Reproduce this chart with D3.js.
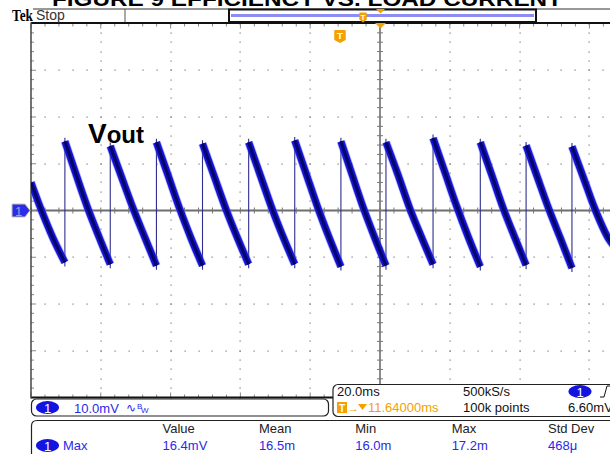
<!DOCTYPE html>
<html><head><meta charset="utf-8">
<script src="https://cdn.jsdelivr.net/npm/d3@7"></script>
<style>
html,body{margin:0;padding:0;background:#fff;overflow:hidden}
svg{display:block}
text{font-family:"Liberation Sans",Arial,sans-serif}
</style></head>
<body>
<script>
// ---- data ----
const timeDomain = [0, 200];       // ms, 10 divisions of 20 ms
const voltDomain = [-40, 40];      // mV, 8 divisions of 10 mV
const titleText = "FIGURE 9 EFFICIENCY VS. LOAD CURRENT";
const traceLabel = ["V", "out"];
// descending ramps of the sawtooth: [time ms, mV]
const ramp0  = [[0,6.0],[2.9,0.2],[6.3,-5.9],[9.71,-11.1]];
const ramp1  = [[9.71,14.8],[12.96,7.6],[16.21,0.6],[19.46,-5.6],[22.71,-11.5]];
const ramp2  = [[22.71,13.8],[26.02,7.0],[29.33,0.3],[32.64,-5.8],[35.94,-11.8]];
const ramp3  = [[35.94,14.6],[39.24,7.6],[42.54,0.5],[45.84,-5.9],[49.14,-11.8]];
const ramp4  = [[49.14,14.3],[52.45,7.4],[55.76,0.5],[59.06,-5.7],[62.37,-11.5]];
const ramp5  = [[62.37,14.6],[65.67,7.6],[68.97,0.6],[72.27,-5.7],[75.57,-11.5]];
const ramp6  = [[75.57,15.0],[78.88,7.8],[82.19,0.6],[85.49,-5.9],[88.80,-12.0]];
const ramp7  = [[88.80,14.8],[92.03,7.6],[95.26,0.5],[98.48,-5.8],[101.71,-11.8]];
const ramp8  = [[101.71,14.6],[105.08,7.8],[108.46,0.6],[111.83,-5.6],[115.20,-11.5]];
const ramp9  = [[115.20,15.5],[118.59,8.2],[121.97,0.9],[125.36,-5.8],[128.74,-12.0]];
const ramp10 = [[128.74,14.6],[132.02,7.6],[135.30,0.5],[138.58,-5.7],[141.86,-11.7]];
const ramp11 = [[141.86,13.9],[145.15,7.0],[148.43,0.2],[151.72,-6.0],[155.00,-12.3]];
const ramp12 = [[155.00,13.7],[158.30,7.0],[161.60,0.3],[165.71,-6.3],[167.5,-8.0]];
const ramps = [ramp0,ramp1,ramp2,ramp3,ramp4,ramp5,ramp6,ramp7,ramp8,ramp9,ramp10,ramp11,ramp12];
// readouts
const chScale = "10.0mV";
const horizReadout = ["20.0ms", "500kS/s"];
const triggerPos = "11.64000ms";
const recordLen = "100k points";
const trigLevel = "6.60mV";
const measHeaders = ["Value", "Mean", "Min", "Max", "Std Dev"];
const measValues  = ["16.4mV", "16.5m", "16.0m", "17.2m", "468\u03bc"];
const measName = "Max";

// ---- layout ----
const W = 610, H = 454;
const L = 31, R = 729, T = 23.5, B = 397.5;
const svg = d3.select("body").append("svg").attr("width", W).attr("height", H);
const x = d3.scaleLinear().domain(timeDomain).range([L, R]);
const y = d3.scaleLinear().domain(voltDomain).range([B, T]);
const blue = "#2a2ae6", orange = "#f5a000";

// title (cropped at top, as in the reference)
svg.append("text").attr("x", 52).attr("y", 5.5).attr("textLength", 510)
  .attr("lengthAdjust", "spacingAndGlyphs")
  .style("font-size", "20px").style("font-weight", "bold").attr("fill", "#000").text(titleText);

// ---- graticule ----
const g = svg.append("g");
const minorX = d3.range(timeDomain[0], timeDomain[1] + 0.001, 4);
const minorY = d3.range(voltDomain[0], voltDomain[1] + 0.001, 2);
const majorX = d3.range(timeDomain[0] + 20, timeDomain[1], 20).filter(d => d !== 100);
const majorY = d3.range(voltDomain[0] + 10, voltDomain[1], 10).filter(d => d !== 0);
majorY.forEach(v => {
  g.selectAll(null).data(minorX).enter().append("rect")
    .attr("x", d => Math.round(x(d)) - 0.5).attr("y", Math.round(y(v)) - 0.5)
    .attr("width", 1.2).attr("height", 1.2).attr("fill", "#7a7a7a");
});
majorX.forEach(t => {
  g.selectAll(null).data(minorY).enter().append("rect")
    .attr("x", Math.round(x(t)) - 0.5).attr("y", d => Math.round(y(d)) - 0.5)
    .attr("width", 1.2).attr("height", 1.2).attr("fill", "#7a7a7a");
});
const cx = x(100), cy = y(0);
g.append("line").attr("x1", L).attr("x2", W).attr("y1", cy).attr("y2", cy)
  .attr("stroke", "#6e6e6e").attr("stroke-width", 2);
g.append("line").attr("x1", cx).attr("x2", cx).attr("y1", T).attr("y2", B)
  .attr("stroke", "#6e6e6e").attr("stroke-width", 1.6);
g.selectAll(null).data(minorX).enter().append("line")
  .attr("x1", d => x(d)).attr("x2", d => x(d)).attr("y1", cy - 3).attr("y2", cy + 3)
  .attr("stroke", "#777").attr("stroke-width", 1);
g.selectAll(null).data(minorY).enter().append("line")
  .attr("y1", d => y(d)).attr("y2", d => y(d)).attr("x1", cx - 3).attr("x2", cx + 3)
  .attr("stroke", "#777").attr("stroke-width", 1);
g.selectAll(null).data(minorX).enter().append("line")
  .attr("x1", d => x(d)).attr("x2", d => x(d)).attr("y1", T).attr("y2", d => T + ((d % 20 === 0) ? 5 : 3))
  .attr("stroke", "#888").attr("stroke-width", 1);
g.selectAll(null).data(minorX).enter().append("line")
  .attr("x1", d => x(d)).attr("x2", d => x(d)).attr("y1", B).attr("y2", d => B - ((d % 20 === 0) ? 5 : 3))
  .attr("stroke", "#888").attr("stroke-width", 1);
g.selectAll(null).data(minorY).enter().append("line")
  .attr("y1", d => y(d)).attr("y2", d => y(d)).attr("x1", L).attr("x2", d => L + ((d % 10 === 0) ? 5 : 3))
  .attr("stroke", "#888").attr("stroke-width", 1);
g.append("line").attr("x1", L).attr("x2", W).attr("y1", T - 0.5).attr("y2", T - 0.5).attr("stroke", "#111").attr("stroke-width", 2);
g.append("line").attr("x1", L).attr("x2", W).attr("y1", B).attr("y2", B).attr("stroke", "#111").attr("stroke-width", 2);
g.append("line").attr("x1", L).attr("x2", L).attr("y1", T - 1).attr("y2", B + 1).attr("stroke", "#444").attr("stroke-width", 1.5);

// ---- trace ----
svg.append("clipPath").attr("id", "clip").append("rect").attr("x", L).attr("y", T).attr("width", W - L).attr("height", B - T);
const tr = svg.append("g").attr("clip-path", "url(#clip)");
const line = d3.line().x(d => x(d[0])).y(d => y(d[1])).curve(d3.curveMonotoneX);
const edges = ramps.slice(1).map((r, i) => {
  const prev = ramps[i];
  return {t: r[0][0], lo: prev[prev.length - 1][1], hi: r[0][1]};
});
tr.selectAll(null).data(edges).enter().append("line")
  .attr("x1", d => x(d.t)).attr("x2", d => x(d.t))
  .attr("y1", d => y(d.lo) + 4).attr("y2", d => y(d.hi) - 3.5)
  .attr("stroke", "#2e2e8c").attr("stroke-width", 1.1);
tr.selectAll(null).data(ramps).enter().append("path").attr("d", line)
  .attr("fill", "none").attr("stroke", "#6a6af2").attr("stroke-width", 8.5).attr("opacity", 0.5);
tr.selectAll(null).data(ramps).enter().append("path").attr("d", line)
  .attr("fill", "none").attr("stroke", "#1414d8").attr("stroke-width", 7);
tr.selectAll(null).data(ramps).enter().append("path").attr("d", line)
  .attr("fill", "none").attr("stroke", "#06066a").attr("stroke-width", 3.2);

// Vout label
const lab = svg.append("text").attr("x", 88).attr("y", 143).attr("fill", "#000").style("font-weight", "bold");
lab.append("tspan").style("font-size", "28px").text(traceLabel[0]);
lab.append("tspan").style("font-size", "24px").text(traceLabel[1]);

// channel marker
svg.append("path").attr("d", `M12,${cy-6.5} L25,${cy-6.5} L30,${cy} L25,${cy+6.5} L12,${cy+6.5} Z`)
  .attr("fill", "#2b2bf0").attr("stroke", "#c9c99a").attr("stroke-width", 1);
svg.append("text").attr("x", 18.5).attr("y", cy + 5).attr("text-anchor", "middle")
  .style("font-size", "13px").attr("fill", "#a0a0d0").text("1");

// ---- header ----
svg.append("text").attr("x", 12).attr("y", 21).attr("textLength", 21).attr("lengthAdjust", "spacingAndGlyphs")
  .style("font-family", "'Liberation Serif',serif")
  .style("font-weight", "bold").style("font-size", "16px").attr("fill", "#000").text("Tek");
svg.append("text").attr("x", 36).attr("y", 20).style("font-size", "14px").attr("fill", "#333").text("Stop");
svg.append("line").attr("x1", 33).attr("x2", W).attr("y1", 9).attr("y2", 9).attr("stroke", "#333").attr("stroke-width", 1);
svg.append("line").attr("x1", 125).attr("x2", 125).attr("y1", 9).attr("y2", 22).attr("stroke", "#555").attr("stroke-width", 1);
svg.append("rect").attr("x", 229).attr("y", 9.5).attr("width", 307).attr("height", 12.5)
  .attr("fill", "#fff").attr("stroke", "#111").attr("stroke-width", 2);
svg.append("line").attr("x1", 231).attr("x2", 534).attr("y1", 15.5).attr("y2", 15.5).attr("stroke", "#8c8cf2").attr("stroke-width", 3);
function tMarker(cxm, top, w, h) {
  svg.append("path").attr("d", `M${cxm-w/2},${top+1} Q${cxm-w/2},${top} ${cxm-w/2+1},${top} L${cxm+w/2-1},${top} Q${cxm+w/2},${top} ${cxm+w/2},${top+1} L${cxm+w/2},${top+h-3} L${cxm},${top+h} L${cxm-w/2},${top+h-3} Z`)
    .attr("fill", orange);
  svg.append("text").attr("x", cxm).attr("y", top + h * 0.72).attr("text-anchor", "middle")
    .style("font-size", (h * 0.75) + "px").style("font-weight", "bold").attr("fill", "#fff").text("T");
}
tMarker(363, 12.5, 7.5, 10);
tMarker(340, 30, 11.5, 13);
svg.append("path").attr("d", `M376,9 L385,9 L380.5,13.5 Z`).attr("fill", orange);
svg.append("path").attr("d", `M375,23 L386,23 L380.5,28.5 Z`).attr("fill", orange);

// ---- bottom readouts ----
svg.append("rect").attr("x", 31.5).attr("y", 399).attr("width", 297).attr("height", 17).attr("rx", 5)
  .attr("fill", "#fff").attr("stroke", "#222").attr("stroke-width", 1.2);
svg.append("ellipse").attr("cx", 47.5).attr("cy", 407.5).attr("rx", 11.5).attr("ry", 6.5).attr("fill", "#1414e0");
svg.append("text").attr("x", 47.5).attr("y", 412.5).attr("text-anchor", "middle").style("font-size", "13px").attr("fill", "#fff").text("1");
svg.append("text").attr("x", 74).attr("y", 412.5).style("font-size", "13px").attr("fill", blue).text(chScale);
svg.append("text").attr("x", 126).attr("y", 412).style("font-size", "12px").attr("fill", blue).text("\u223f");
svg.append("text").attr("x", 137).attr("y", 409).style("font-size", "8px").attr("fill", blue).text("B");
svg.append("text").attr("x", 141).attr("y", 413).style("font-size", "8px").attr("fill", blue).text("W");

svg.append("rect").attr("x", 333).attr("y", 384.5).attr("width", 300).attr("height", 32).attr("rx", 5)
  .attr("fill", "#fff").attr("stroke", "#222").attr("stroke-width", 1.2);
svg.append("text").attr("x", 337).attr("y", 396).style("font-size", "13px").attr("fill", "#111").text(horizReadout[0]);
svg.append("text").attr("x", 463).attr("y", 396).style("font-size", "13px").attr("fill", "#111").text(horizReadout[1]);
svg.append("ellipse").attr("cx", 580).attr("cy", 391.5).attr("rx", 11.5).attr("ry", 6.5).attr("fill", "#1414e0");
svg.append("text").attr("x", 580).attr("y", 396.5).attr("text-anchor", "middle").style("font-size", "13px").attr("fill", "#fff").text("1");
svg.append("path").attr("d", "M600,397 L604,397 L607,386 L611,386").attr("fill", "none").attr("stroke", "#111").attr("stroke-width", 1);
svg.append("rect").attr("x", 337).attr("y", 402).attr("width", 10).attr("height", 11).attr("fill", orange);
svg.append("text").attr("x", 342).attr("y", 411.5).attr("text-anchor", "middle").style("font-size", "10px").style("font-weight", "bold").attr("fill", "#fff").text("T");
svg.append("text").attr("x", 348).attr("y", 412).style("font-size", "11px").attr("fill", orange).text("\u2192");
svg.append("path").attr("d", "M358,404 L367,404 L362.5,410 Z").attr("fill", orange);
svg.append("text").attr("x", 368).attr("y", 412).style("font-size", "13px").attr("fill", orange).text(triggerPos);
svg.append("text").attr("x", 463).attr("y", 412).style("font-size", "13px").attr("fill", "#111").text(recordLen);
svg.append("text").attr("x", 568).attr("y", 412).style("font-size", "13px").attr("fill", "#111").text(trigLevel);

// measurements
svg.append("path").attr("d", `M31.5,${H+2} L31.5,426 Q31.5,420.5 37,420.5 L${W+2},420.5`)
  .attr("fill", "none").attr("stroke", "#222").attr("stroke-width", 1.2);
const colX = d3.scalePoint().domain(measHeaders).range([162.5, 548]);
svg.selectAll(null).data(measHeaders).enter().append("text")
  .attr("x", d => colX(d)).attr("y", 433).style("font-size", "13px").attr("fill", "#222").text(d => d);
svg.selectAll(null).data(measValues).enter().append("text")
  .attr("x", (d, i) => colX(measHeaders[i])).attr("y", 450).style("font-size", "13px").attr("fill", blue).text(d => d);
svg.append("ellipse").attr("cx", 47.5).attr("cy", 445.5).attr("rx", 11.5).attr("ry", 6.5).attr("fill", "#1414e0");
svg.append("text").attr("x", 47.5).attr("y", 450.5).attr("text-anchor", "middle").style("font-size", "13px").attr("fill", "#fff").text("1");
svg.append("text").attr("x", 63).attr("y", 450).style("font-size", "13px").attr("fill", blue).text(measName);
</script>
</body></html>
